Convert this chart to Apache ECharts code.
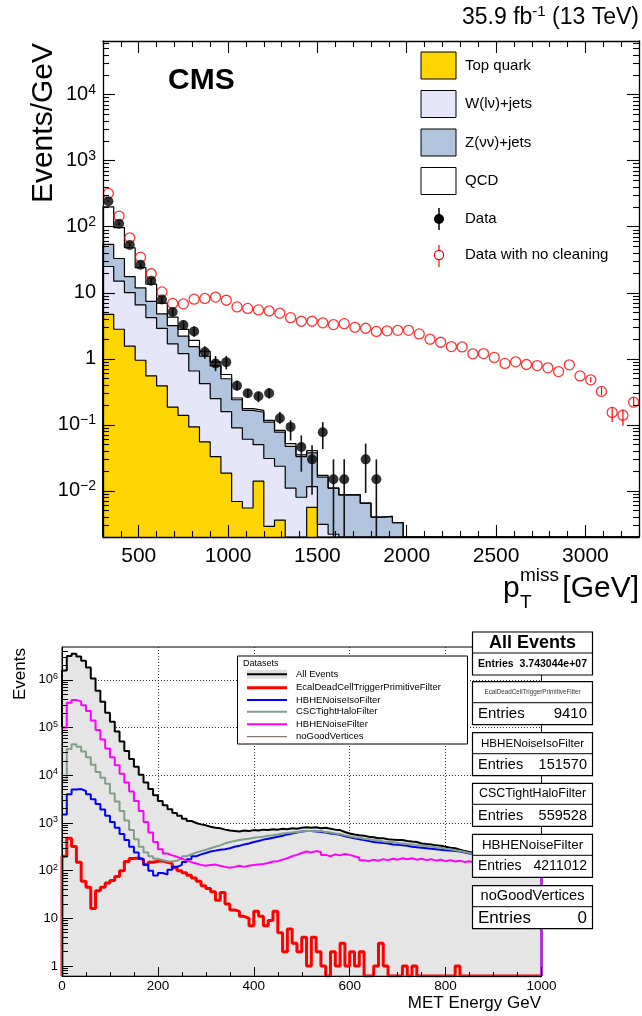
<!DOCTYPE html>
<html><head><meta charset="utf-8">
<script src="https://cdn.jsdelivr.net/npm/echarts@6/dist/echarts.min.js"></script>
<style>html,body{margin:0;padding:0;background:#fff}#c{width:642px;height:1016px}</style>
</head><body><div id="c"></div>
<script>
const FONT = '"Liberation Sans", Arial, Helvetica, sans-serif';

// ================= Upper panel (CMS, events / GeV, 60 GeV bins from 300) =================
const upperBinStart = 300, upperBinWidth = 60, upperBinCount = 50;
const topQuark = [4.7, 2.8, 1.55, 0.95, 0.55, 0.39, 0.185, 0.139, 0.093, 0.055, 0.033, 0.0185, 0.0069, 0.0055, 0.014, 0.0029, 0.0036, 0, 0, 0.0056];
const wJets = [20.3, 12.2, 8.5, 5.6, 3.65, 2.5, 1.5, 1.06, 0.56, 0.365, 0.217, 0.14, 0.083, 0.055, 0.036, 0.028, 0.020, 0.011, 0.008, 0.006, 0.0031, 0.0022];
const zJets = [29, 18, 7.5, 5.3, 3.2, 1.9, 1.5, 1.0, 0.88, 0.68, 0.53, 0.34, 0.15, 0.105, 0.105, 0.079, 0.054, 0.036, 0.025, 0.026, 0.013, 0.0088, 0.0087, 0.0087, 0.0065, 0.004, 0.0041, 0.0033];
const qcd = [146, 64, 30.5, 12.2, 6.1, 2.2, 1.1, 0.6, 0.37, 0.2, 0.12, 0.08, 0.015, 0.01, 0.01, 0.007, 0.005, 0.005, 0.002, 0.003, 0.001];
const dataClean     = [243, 111, 53, 26.5, 15.2, 7.9, 5.1, 3.25, 2.6, 1.27, 0.85, 0.89, 0.39, 0.30, 0.27, 0.30, 0.126, 0.093, 0.046, 0.030, 0.077, 0.015, 0.015, null, 0.030, 0.015];
const dataCleanLow  = [236, 106, 50, 24.5, 13.8, 7.0, 4.4, 2.75, 2.15, 1.0, 0.65, 0.69, 0.33, 0.26, 0.22, 0.25, 0.104, 0.058, 0.0195, 0.0087, 0.043, 0.001, 0.001, null, 0.0093, 0.001];
const dataCleanHigh = [250, 116, 56, 28.5, 16.7, 8.9, 5.8, 3.8, 3.1, 1.55, 1.1, 1.1, 0.47, 0.35, 0.32, 0.36, 0.156, 0.117, 0.069, 0.049, 0.11, 0.030, 0.030, null, 0.052, 0.030];
const dataNoClean = [320, 145, 68, 34.6, 19.4, 10.3, 6.9, 6.8, 8.0, 8.2, 8.6, 7.7, 6.1, 5.8, 5.5, 5.3, 4.9, 4.2, 3.7, 3.7,
  3.5, 3.3, 3.4, 3.0, 2.9, 2.6, 2.65, 2.7, 2.7, 2.38, 1.98, 1.78, 1.53, 1.51, 1.19, 1.2, 1.05, 0.85, 0.9, 0.82,
  0.79, 0.73, 0.64, 0.81, 0.55, 0.48, 0.32, 0.154, 0.14, 0.22];
const dataNoCleanLow  = {45: 0.44, 46: 0.28, 47: 0.11, 48: 0.097, 49: 0.19};
const dataNoCleanHigh = {45: 0.53, 46: 0.37, 47: 0.185, 48: 0.17, 49: 0.26};
const upperXLabels = [500, 1000, 1500, 2000, 2500, 3000];
const upperYLabels = [0.01, 0.1, 1, 10, 100, 1000, 10000];
const upperLegend = [
  {label: 'Top quark', fill: '#FFD500'},
  {label: 'W(l\u03bd)+jets', fill: '#E6E6FA'},
  {label: 'Z(\u03bd\u03bd)+jets', fill: '#B0C4DE'},
  {label: 'QCD', fill: '#FFFFFF'}
];

// ================= Lower panel (MET, 10 GeV bins 0-1000) =================
const lowerBinStart = 0, lowerBinWidth = 10, lowerBinCount = 100;
const allEvents = [1580000, 3160000, 3550000, 3090000, 2510000, 1820000, 1070000, 590000, 347000, 204000,
  132000, 83000, 51000, 32400, 21900, 15100, 10200, 7080, 5130, 3800,
  2880, 2340, 1950, 1620, 1410, 1230, 1100, 1000, 933, 891,
  832, 794, 776, 724, 692, 676, 660, 692, 676, 708,
  692, 724, 708, 741, 724, 759, 741, 776, 759, 794,
  813, 794, 813, 776, 794, 759, 724, 708, 646, 603,
  575, 550, 537, 513, 501, 479, 479, 457, 447, 437,
  437, 417, 407, 398, 372, 363, 355, 339, 331, 316,
  302, 295, 275, 257, 245, 234, 224, 219, 209, 200,
  195, 186, 182, 174, 170, 162, 158, 151, 148, 141];
const ecalDeadCell = [200, 480, 320, 150, 60, 45, 16, 38, 45, 55,
  62, 75, 100, 155, 180, 185, 170, 135, 150, 158,
  160, 150, 140, 115, 100, 90, 80, 70, 60, 48,
  42, 36, 24, 35, 20, 15, 14, 11, 10, 7,
  14, 11, 7, 9, 14, 5, 2, 6, 3, 2,
  4, 1, 4, 2, 1, 0, 2, 1, 3, 1,
  2, 1, 2, 0, 0, 1, 3, 1, 0, 0,
  0, 1, 0, 1, 0, 0, 0, 0, 0, 0,
  0, 0, 1, 0, 0, 0, 0, 0, 0, 0,
  0, 0, 0, 0, 0, 0, 0, 0, 0, 0];
const hbheNoiseIso = [1500, 3980, 5010, 5130, 4680, 3980, 3160, 2510, 1905, 1410,
  1050, 794, 589, 437, 316, 240, 178, 132, 100, 79,
  89, 83, 105, 120, 132, 151, 174, 200, 219, 234,
  251, 263, 275, 282, 295, 316, 331, 355, 372, 398,
  417, 447, 468, 490, 513, 537, 575, 603, 631, 661,
  676, 676, 661, 646, 631, 603, 589, 562, 525, 501,
  479, 457, 437, 417, 398, 389, 380, 372, 355, 347,
  339, 331, 316, 309, 302, 295, 288, 282, 275, 269,
  263, 257, 251, 240, 229, 224, 219, 214, 204, 200,
  195, 191, 182, 178, 174, 166, 162, 158, 151, 145];
const cscTightHalo = [7940, 35500, 44700, 39800, 31600, 24000, 16600, 11700, 8910, 6610,
  4170, 2820, 1780, 1120, 708, 457, 316, 240, 200, 178,
  166, 158, 155, 162, 178, 200, 219, 240, 257, 275,
  295, 316, 339, 372, 398, 417, 437, 457, 468, 490,
  501, 513, 537, 550, 575, 603, 617, 631, 646, 661,
  676, 676, 661, 676, 646, 631, 603, 589, 550, 525,
  501, 490, 468, 457, 437, 427, 407, 398, 398, 380,
  372, 363, 355, 347, 331, 331, 316, 309, 302, 288,
  282, 269, 257, 245, 234, 224, 219, 209, 200, 195,
  186, 182, 174, 170, 162, 158, 151, 148, 141, 138];
const hbheNoise = [100000, 331000, 380000, 355000, 295000, 224000, 141000, 89100, 56200, 36300,
  24000, 16200, 10700, 7080, 4570, 2880, 1780, 1050, 631, 398,
  282, 229, 209, 195, 178, 162, 151, 141, 132, 126,
  132, 135, 126, 120, 115, 120, 126, 120, 126, 132,
  135, 138, 145, 155, 158, 170, 182, 200, 214, 234,
  251, 240, 257, 245, 214, 200, 219, 209, 224, 214,
  200, 186, 166, 158, 170, 162, 174, 166, 178, 170,
  182, 174, 182, 170, 178, 166, 174, 162, 170, 158,
  166, 155, 162, 151, 158, 148, 155, 145, 151, 141,
  148, 138, 145, 135, 141, 132, 138, 129, 112, 100];
const noGoodVertices = [0,0,0,0,0,0,0,0,0,0, 0,0,0,0,0,0,0,0,0,0, 0,0,0,0,0,0,0,0,0,0, 0,0,0,0,0,0,0,0,0,0, 0,0,0,0,0,0,0,0,0,0,
  0,0,0,0,0,0,0,0,0,0, 0,0,0,0,0,0,0,0,0,0, 0,0,0,0,0,0,0,0,0,0, 0,0,0,0,0,0,0,0,0,0, 0,0,0,0,0,0,0,0,0,0];
const lowerDatasets = [
  {name: 'All Events', values: allEvents, color: '#000000', width: 2},
  {name: 'EcalDeadCellTriggerPrimitiveFilter', values: ecalDeadCell, color: '#FF0000', width: 3},
  {name: 'HBHENoiseIsoFilter', values: hbheNoiseIso, color: '#0000FF', width: 2},
  {name: 'CSCTightHaloFilter', values: cscTightHalo, color: '#7F9F8A', width: 2},
  {name: 'HBHENoiseFilter', values: hbheNoise, color: '#FF00FF', width: 2},
  {name: 'noGoodVertices', values: noGoodVertices, color: '#6E554B', width: 1}
];
const statTitles  = ['All Events', 'EcalDeadCellTriggerPrimitiveFilter', 'HBHENoiseIsoFilter', 'CSCTightHaloFilter', 'HBHENoiseFilter', 'noGoodVertices'];
const statEntries = ['3.743044e+07', '9410', '151570', '559528', '4211012', '0'];
const lowerXInterval = 200;
const lowerYLabels = [1, 10, 100, 1000, 10000, 100000, 1000000];

// ================= helpers =================
const U_MIN = 0.002, U_MAX = 65000, L_MIN = 0.617, L_MAX = 4.9e6;
function sumArrays(arrs, n) { const out = []; for (let i = 0; i < n; i++) { let s = 0; arrs.forEach(a => s += (a[i] || 0)); out.push(s); } return out; }
function stepPoints(vals, start, width, count, floor) {
  const pts = [[start, floor]];
  for (let i = 0; i < count; i++) { const v = vals[i] || 0; pts.push([start + i * width, v > 0 ? v : floor]); }
  const last = vals[count - 1] || 0;
  pts.push([start + count * width, last > 0 ? last : floor]);
  pts.push([start + count * width, floor]);
  return pts;
}
function histSeries(pts, color, width, fill, xi, yi) {
  const s = {type: 'line', xAxisIndex: xi, yAxisIndex: yi, data: pts, step: 'end', symbol: 'none', showSymbol: false,
    lineStyle: {color: color, width: width}, animation: false, silent: true, clip: true, z: 2};
  if (fill) s.areaStyle = {color: fill, opacity: 1, origin: 'start'};
  return s;
}
function errSeries(rows, color, width) {
  return {type: 'custom', xAxisIndex: 0, yAxisIndex: 0, data: rows, clip: true, silent: true, animation: false, z: 3,
    encode: {x: 0, y: [1, 2]},
    renderItem: (p, api) => {
      const a = api.coord([api.value(0), api.value(1)]);
      const b = api.coord([api.value(0), api.value(2)]);
      return {type: 'line', shape: {x1: a[0], y1: a[1], x2: b[0], y2: b[1]}, style: {stroke: color, lineWidth: width}};
    }};
}
function logLabel(v) {
  const e = Math.round(Math.log10(v));
  if (e === 0) return '{b|1}';
  if (e === 1) return '{b|10}';
  return '{b|10}{s|' + (e < 0 ? '\u2212' + (-e) : e) + '}';
}
function plainLabel(v) { return String(v); }
function minorLogTicks(lo, hi) {
  const out = [];
  for (let d = -4; d <= 7; d++) for (let m = 2; m <= 9; m++) { const v = m * Math.pow(10, d); if (v > lo && v < hi) out.push(v); }
  return out;
}

// ================= build upper =================
const uCenters = [], uN = upperBinCount;
for (let i = 0; i < uN; i++) uCenters.push(upperBinStart + (i + 0.5) * upperBinWidth);
const cumTop = sumArrays([topQuark], uN);
const cumW = sumArrays([topQuark, wJets], uN);
const cumZ = sumArrays([topQuark, wJets, zJets], uN);
const cumAll = sumArrays([topQuark, wJets, zJets, qcd], uN);
const uMinorX = [];
for (let v = upperBinStart; v <= upperBinStart + uN * upperBinWidth; v += 100) if (v % 500 !== 0) uMinorX.push(v);
const uMinorY = minorLogTicks(U_MIN * 0.999, U_MAX);

const series = [];
series.push(histSeries(stepPoints(cumAll, upperBinStart, upperBinWidth, uN, U_MIN), '#000', 1.2, '#FFFFFF', 0, 0));
series.push(histSeries(stepPoints(cumZ, upperBinStart, upperBinWidth, uN, U_MIN), '#000', 1.2, upperLegend[2].fill, 0, 0));
series.push(histSeries(stepPoints(cumW, upperBinStart, upperBinWidth, uN, U_MIN), '#000', 1.2, upperLegend[1].fill, 0, 0));
series.push(histSeries(stepPoints(cumTop, upperBinStart, upperBinWidth, uN, U_MIN), '#000', 1.2, upperLegend[0].fill, 0, 0));

const cleanErr = [], cleanPts = [];
dataClean.forEach((v, i) => { if (v != null) { cleanPts.push([uCenters[i], v]); cleanErr.push([uCenters[i], dataCleanLow[i], dataCleanHigh[i]]); } });
const noCleanPts = dataNoClean.map((v, i) => [uCenters[i], v]);
const noCleanErr = Object.keys(dataNoCleanLow).map(k => [uCenters[+k], dataNoCleanLow[k], dataNoCleanHigh[k]]);
series.push(errSeries(noCleanErr, '#FF0000', 1.2));
series.push({type: 'scatter', xAxisIndex: 0, yAxisIndex: 0, data: noCleanPts, symbol: 'circle', symbolSize: 10,
  itemStyle: {color: 'rgba(255,255,255,0)', borderColor: '#FF0000', borderWidth: 1.3}, z: 4, animation: false, silent: true});
series.push(errSeries(cleanErr, '#111', 1.6));
series.push({type: 'scatter', xAxisIndex: 0, yAxisIndex: 0, data: cleanPts, symbol: 'circle', symbolSize: 10,
  itemStyle: {color: '#000'}, z: 5, animation: false, silent: true});

// ================= build lower =================
const lMinorY = minorLogTicks(L_MIN, L_MAX);
lowerDatasets.forEach((d, k) => {
  series.push(histSeries(stepPoints(d.values, lowerBinStart, lowerBinWidth, lowerBinCount, L_MIN), d.color, d.width,
    k === 0 ? '#E5E5E5' : null, 4, 4));
});

// ================= axes =================
const tickLine = {color: '#000', width: 1.1};
const xAxis = [
  {gridIndex: 0, type: 'value', min: 300, max: 3300, position: 'bottom', z: 10,
    axisLine: {show: true, lineStyle: {color: '#000', width: 1.3}},
    axisTick: {show: true, inside: true, length: 12, customValues: upperXLabels, lineStyle: tickLine},
    axisLabel: {customValues: upperXLabels, formatter: plainLabel, fontSize: 21, fontFamily: FONT, color: '#000', margin: 9},
    splitLine: {show: false}},
  {gridIndex: 0, type: 'value', min: 300, max: 3300, position: 'bottom', z: 10, axisLine: {show: false},
    axisTick: {show: true, inside: true, length: 6, customValues: uMinorX, lineStyle: tickLine},
    axisLabel: {show: false}, splitLine: {show: false}},
  {gridIndex: 0, type: 'value', min: 300, max: 3300, position: 'top', z: 10,
    axisLine: {show: true, lineStyle: {color: '#000', width: 1.3}},
    axisTick: {show: true, inside: true, length: 12, customValues: upperXLabels, lineStyle: tickLine},
    axisLabel: {show: false}, splitLine: {show: false}},
  {gridIndex: 0, type: 'value', min: 300, max: 3300, position: 'top', z: 10, axisLine: {show: false},
    axisTick: {show: true, inside: true, length: 6, customValues: uMinorX, lineStyle: tickLine},
    axisLabel: {show: false}, splitLine: {show: false}},
  {gridIndex: 1, type: 'value', min: 0, max: 1000, interval: lowerXInterval, position: 'bottom', z: 10,
    axisLine: {show: true, lineStyle: {color: '#000', width: 1}},
    axisTick: {show: true, inside: true, length: 9, lineStyle: {color: '#000', width: 1}},
    minorTick: {show: true, splitNumber: 4, length: 4, lineStyle: {color: '#000', width: 1}},
    axisLabel: {formatter: plainLabel, fontSize: 13.5, fontFamily: FONT, color: '#000', margin: 3},
    splitLine: {show: false}},
  {gridIndex: 1, type: 'value', min: 0, max: 1000, interval: lowerXInterval, position: 'bottom', z: 0,
    axisLine: {show: false}, axisTick: {show: false}, axisLabel: {show: false},
    splitLine: {show: true, lineStyle: {color: '#333', width: 1, type: [1, 2]}}}
];
const uRich = {b: {fontSize: 20, fontFamily: FONT, color: '#000', lineHeight: 24},
               s: {fontSize: 14, fontFamily: FONT, color: '#000', lineHeight: 14, verticalAlign: 'top'}};
const lRich = {b: {fontSize: 13, fontFamily: FONT, color: '#000', lineHeight: 16},
               s: {fontSize: 9, fontFamily: FONT, color: '#000', lineHeight: 9, verticalAlign: 'top'}};
const yAxis = [
  {gridIndex: 0, type: 'log', logBase: 10, min: U_MIN, max: U_MAX, position: 'left', z: 10,
    axisLine: {show: true, lineStyle: {color: '#000', width: 1.3}},
    axisTick: {show: true, inside: true, length: 12, customValues: upperYLabels, lineStyle: tickLine},
    axisLabel: {customValues: upperYLabels, formatter: logLabel, rich: uRich, margin: 7},
    splitLine: {show: false}},
  {gridIndex: 0, type: 'log', logBase: 10, min: U_MIN, max: U_MAX, position: 'left', z: 10, axisLine: {show: false},
    axisTick: {show: true, inside: true, length: 6, customValues: uMinorY, lineStyle: tickLine},
    axisLabel: {show: false}, splitLine: {show: false}},
  {gridIndex: 0, type: 'log', logBase: 10, min: U_MIN, max: U_MAX, position: 'right', z: 10,
    axisLine: {show: true, lineStyle: {color: '#000', width: 1.3}},
    axisTick: {show: true, inside: true, length: 12, customValues: upperYLabels, lineStyle: tickLine},
    axisLabel: {show: false}, splitLine: {show: false}},
  {gridIndex: 0, type: 'log', logBase: 10, min: U_MIN, max: U_MAX, position: 'right', z: 10, axisLine: {show: false},
    axisTick: {show: true, inside: true, length: 6, customValues: uMinorY, lineStyle: tickLine},
    axisLabel: {show: false}, splitLine: {show: false}},
  {gridIndex: 1, type: 'log', logBase: 10, min: L_MIN, max: L_MAX, position: 'left', z: 10,
    axisLine: {show: true, lineStyle: {color: '#000', width: 1}},
    axisTick: {show: true, inside: true, length: 11, customValues: lowerYLabels, lineStyle: {color: '#000', width: 1}},
    axisLabel: {customValues: lowerYLabels, formatter: logLabel, rich: lRich, margin: 4},
    splitLine: {show: false}},
  {gridIndex: 1, type: 'log', logBase: 10, min: L_MIN, max: L_MAX, position: 'left', z: 10, axisLine: {show: false},
    axisTick: {show: true, inside: true, length: 6, customValues: lMinorY, lineStyle: {color: '#000', width: 1}},
    axisLabel: {show: false}, splitLine: {show: false}},
  {gridIndex: 1, type: 'log', logBase: 10, min: L_MIN, max: L_MAX, position: 'left', z: 0, axisLine: {show: false},
    axisTick: {show: false, customValues: lowerYLabels}, axisLabel: {show: false},
    splitLine: {show: true, lineStyle: {color: '#333', width: 1, type: [1, 2]}}}
];

// ================= graphics (texts, legends, stat boxes) =================
const G = [];
function txt(x, y, text, size, opts) {
  opts = opts || {};
  G.push({type: 'text', x: x, y: y, rotation: opts.rotation || 0, z: 100, silent: true,
    style: {text: text, fontSize: size, fontFamily: FONT, fontWeight: opts.bold ? 'bold' : 'normal', fill: opts.color || '#000',
      align: opts.align || 'left', verticalAlign: opts.va || 'middle', rich: opts.rich}});
}
// upper titles
txt(639, 18, '{a|35.9 fb}{s|-1}{a| (13 TeV)}', 23, {align: 'right',
  rich: {a: {fontSize: 23, fontFamily: FONT, lineHeight: 28}, s: {fontSize: 15, fontFamily: FONT, lineHeight: 15, verticalAlign: 'top'}}});
txt(168, 81, 'CMS', 30, {bold: true});
txt(44, 43, 'Events/GeV', 30, {rotation: Math.PI / 2, align: 'right'});
txt(503, 589, 'p', 30);
txt(520, 576, 'miss', 19);
txt(520, 603, 'T', 19);
txt(639, 589, '[GeV]', 30, {align: 'right'});
// upper legend
const legY = [65.5, 104, 142.5, 181];
upperLegend.forEach((it, i) => {
  G.push({type: 'rect', z: 100, silent: true, shape: {x: 421, y: legY[i] - 13.5, width: 35, height: 27},
    style: {fill: it.fill, stroke: '#000', lineWidth: 1}});
  txt(465, legY[i], it.label, 15);
});
G.push({type: 'line', z: 100, silent: true, shape: {x1: 439, y1: 208, x2: 439, y2: 230}, style: {stroke: '#000', lineWidth: 1.5}});
G.push({type: 'circle', z: 101, silent: true, shape: {cx: 439, cy: 219, r: 5}, style: {fill: '#000'}});
txt(465, 219, 'Data', 15);
G.push({type: 'line', z: 100, silent: true, shape: {x1: 439, y1: 245, x2: 439, y2: 267}, style: {stroke: '#FF0000', lineWidth: 1.2}});
G.push({type: 'circle', z: 101, silent: true, shape: {cx: 439, cy: 255, r: 4.6}, style: {fill: '#fff', stroke: '#FF0000', lineWidth: 1.2}});
txt(465, 255, 'Data with no cleaning', 15);

// lower titles
txt(20, 648, 'Events', 17, {rotation: Math.PI / 2, align: 'right'});
txt(541, 1003, 'MET Energy GeV', 17, {align: 'right'});
// lower legend box
G.push({type: 'rect', z: 100, silent: true, shape: {x: 237.5, y: 656, width: 230, height: 88}, style: {fill: '#fff', stroke: '#000', lineWidth: 1}});
txt(243, 664, 'Datasets', 9);
const lLegY = [674.3, 687.7, 700, 711.7, 724.3, 736.7];
lowerDatasets.forEach((d, i) => {
  if (i === 0) G.push({type: 'rect', z: 101, silent: true, shape: {x: 247, y: lLegY[i] - 4.5, width: 40, height: 9}, style: {fill: '#E0E0E0'}});
  G.push({type: 'line', z: 102, silent: true, shape: {x1: 247, y1: lLegY[i], x2: 287, y2: lLegY[i]}, style: {stroke: d.color, lineWidth: d.width}});
  txt(296, lLegY[i], d.name, 9.5);
});
// stat boxes
const boxTops = [632, 681.7, 732.7, 783.3, 834.3, 885.7];
const titleSizes = [18, 6.3, 11.6, 12.5, 13.4, 14.6];
const entrySizes = [10.5, 15, 14.5, 14.5, 14, 17];
statTitles.forEach((t, i) => {
  const y0 = boxTops[i];
  G.push({type: 'rect', z: 100, silent: true, shape: {x: 472.5, y: y0, width: 120, height: 43}, style: {fill: '#fff', stroke: '#000', lineWidth: 1.2}});
  G.push({type: 'line', z: 101, silent: true, shape: {x1: 472.5, y1: y0 + 21, x2: 592.5, y2: y0 + 21}, style: {stroke: '#000', lineWidth: 1}});
  txt(532.5, y0 + 10.7, t, titleSizes[i], {align: 'center', bold: i === 0, color: i === 1 ? '#333' : '#000'});
  txt(478, y0 + 32.2, 'Entries', entrySizes[i], {bold: i === 0});
  txt(587, y0 + 32.2, statEntries[i], entrySizes[i], {align: 'right', bold: i === 0});
});

const chart = echarts.init(document.getElementById('c'), null, {renderer: 'canvas'});
chart.setOption({
  animation: false,
  backgroundColor: '#fff',
  grid: [
    {left: 103, top: 41, width: 536, height: 496},
    {left: 62, top: 647, width: 479.5, height: 329, show: true, borderColor: '#000', borderWidth: 1, backgroundColor: 'rgba(0,0,0,0)'}
  ],
  xAxis: xAxis,
  yAxis: yAxis,
  series: series,
  graphic: {elements: G}
});
</script></body></html>
